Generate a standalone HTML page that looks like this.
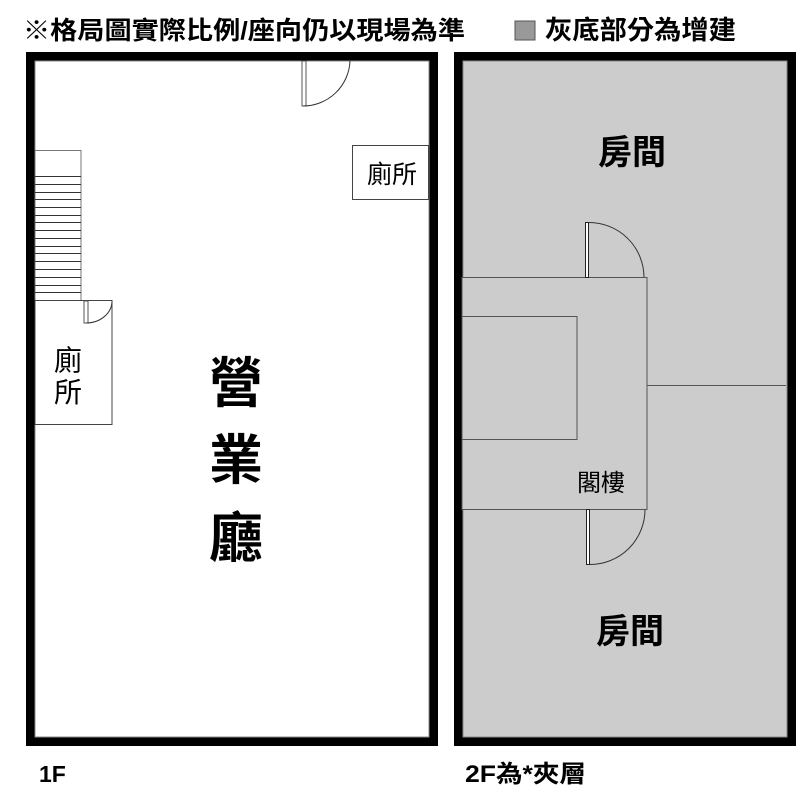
<!DOCTYPE html>
<html><head><meta charset="utf-8"><style>
body{margin:0;background:#fff;width:800px;height:791px;overflow:hidden}
svg text{font-family:"Liberation Sans","Noto Sans CJK TC",sans-serif;fill:#000}
</style></head><body>
<svg width="800" height="791" viewBox="0 0 800 791" xmlns="http://www.w3.org/2000/svg">
<text x="23" y="39" font-size="25" font-weight="bold" textLength="442" lengthAdjust="spacingAndGlyphs">※格局圖實際比例/座向仍以現場為準</text>
<rect x="515" y="21" width="20" height="19" fill="#999" stroke="#555" stroke-width="1"/>
<text x="545" y="39" font-size="26" font-weight="bold" textLength="191" lengthAdjust="spacingAndGlyphs">灰底部分為增建</text>

<!-- 1F -->
<rect x="30.5" y="56.5" width="403" height="685" fill="#fff" stroke="#000" stroke-width="9"/>
<rect x="35" y="61" width="394" height="676" fill="none" stroke="#888" stroke-width="1"/>
<rect x="302" y="61" width="4" height="45" fill="#fff" stroke="#555" stroke-width="1"/>
<path d="M303 106 A47 47 0 0 0 350 61" fill="none" stroke="#333" stroke-width="1"/>
<rect x="352.5" y="145.5" width="76" height="54" fill="#fff" stroke="#444" stroke-width="1"/>
<text x="392" y="183" font-size="25" text-anchor="middle">廁所</text>
<rect x="35" y="150.5" width="46" height="150" fill="#fff" stroke="#777" stroke-width="1"/>
<g stroke="#333" stroke-width="1">
<line x1="35" y1="176.5" x2="81" y2="176.5"/><line x1="35" y1="184.5" x2="81" y2="184.5"/>
<line x1="35" y1="192.5" x2="81" y2="192.5"/><line x1="35" y1="199.5" x2="81" y2="199.5"/>
<line x1="35" y1="207.5" x2="81" y2="207.5"/><line x1="35" y1="215.5" x2="81" y2="215.5"/>
<line x1="35" y1="222.5" x2="81" y2="222.5"/><line x1="35" y1="230.5" x2="81" y2="230.5"/>
<line x1="35" y1="238.5" x2="81" y2="238.5"/><line x1="35" y1="246.5" x2="81" y2="246.5"/>
<line x1="35" y1="253.5" x2="81" y2="253.5"/><line x1="35" y1="261.5" x2="81" y2="261.5"/>
<line x1="35" y1="269.5" x2="81" y2="269.5"/><line x1="35" y1="277.5" x2="81" y2="277.5"/>
<line x1="35" y1="285.5" x2="81" y2="285.5"/><line x1="35" y1="292.5" x2="81" y2="292.5"/>
</g>
<rect x="35" y="300.5" width="77" height="124" fill="#fff" stroke="#444" stroke-width="1"/>
<rect x="84" y="301" width="4" height="22" fill="#fff" stroke="#555" stroke-width="1"/>
<path d="M86 323 A26 22 0 0 0 112 301" fill="none" stroke="#333" stroke-width="1"/>
<text x="68" y="370" font-size="28" text-anchor="middle">廁</text>
<text x="68" y="402" font-size="28" text-anchor="middle">所</text>
<text x="236" y="402" font-size="54" font-weight="bold" text-anchor="middle">營</text>
<text x="236" y="479" font-size="54" font-weight="bold" text-anchor="middle">業</text>
<text x="236" y="557" font-size="54" font-weight="bold" text-anchor="middle">廳</text>

<!-- 2F -->
<rect x="458.5" y="56.5" width="333" height="685" fill="#ccc" stroke="#000" stroke-width="9"/>
<rect x="463" y="61" width="324" height="676" fill="none" stroke="#888" stroke-width="1"/>
<rect x="462" y="277.5" width="185" height="232" fill="#ccc" stroke="#555" stroke-width="1"/>
<rect x="462" y="316.5" width="115" height="123" fill="none" stroke="#555" stroke-width="1"/>
<line x1="647" y1="385.5" x2="786" y2="385.5" stroke="#555" stroke-width="1"/>
<rect x="585.5" y="222.5" width="3" height="55" fill="#fff" stroke="#222" stroke-width="1"/>
<path d="M589 222.5 A55 55 0 0 1 644 277" fill="none" stroke="#333" stroke-width="1"/>
<rect x="586.5" y="509.5" width="3" height="55" fill="#fff" stroke="#222" stroke-width="1"/>
<path d="M590 564.5 A55 55 0 0 0 645 509.5" fill="none" stroke="#333" stroke-width="1"/>
<text x="601" y="491" font-size="24" text-anchor="middle">閣樓</text>
<text x="632" y="164" font-size="34" font-weight="bold" text-anchor="middle">房間</text>
<text x="630" y="643" font-size="34" font-weight="bold" text-anchor="middle">房間</text>

<text x="39" y="782" font-size="23" font-weight="bold">1F</text>
<text x="465" y="782" font-size="24" font-weight="bold" textLength="121" lengthAdjust="spacingAndGlyphs">2F為*夾層</text>
</svg>
</body></html>
